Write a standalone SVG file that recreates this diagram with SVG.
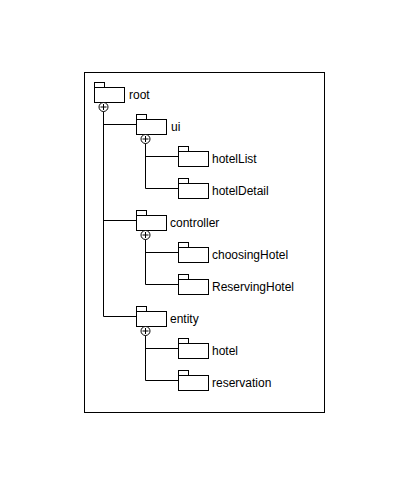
<svg xmlns="http://www.w3.org/2000/svg" width="406" height="500" viewBox="0 0 406 500">
  <defs>
    <style>
      .frame { fill: #ffffff; stroke: #000000; stroke-width: 1; }
      .box { fill: #ffffff; stroke: #000000; stroke-width: 1; }
      .label { font-family: "Liberation Sans", Arial, sans-serif; font-size: 12px; fill: #000000; }
      .wire { fill: none; stroke: #000000; stroke-width: 1; }
      .ring { fill: #ffffff; stroke: #000000; stroke-width: 1; }
      .cross { fill: none; stroke: #000000; stroke-width: 1; }
    </style>
    <!-- package folder icon: tab + body -->
    <g id="folder">
      <rect class="box" x="0.5" y="-4.5" width="10" height="5"/>
      <rect class="box" x="0.5" y="0.5" width="30" height="15"/>
    </g>
    <!-- containment (nesting) circle with plus -->
    <g id="plus">
      <circle class="ring" cx="0" cy="0" r="4.5"/>
      <path class="cross" d="M-3 0H3M0 -3V3"/>
    </g>
  </defs>

  <rect class="frame" x="84.5" y="72.5" width="240" height="340"/>

  <g id="connectors" class="wire">
    <!-- root to ui, controller, entity -->
    <path d="M103.5 111.5V316.5M103.5 124.5H136M103.5 220.5H136M103.5 316.5H136"/>
    <!-- ui to hotelList, hotelDetail -->
    <path d="M145.5 143.5V188.5M145.5 156.5H178M145.5 188.5H178"/>
    <!-- controller to choosingHotel, ReservingHotel -->
    <path d="M145.5 239.5V284.5M145.5 252.5H178M145.5 284.5H178"/>
    <!-- entity to hotel, reservation -->
    <path d="M145.5 335.5V380.5M145.5 348.5H178M145.5 380.5H178"/>
  </g>

  <g id="root" transform="translate(94 87)">
    <use href="#folder"/>
    <text class="label" x="35" y="12">root</text>
    <use href="#plus" x="9.5" y="20"/>
  </g>
  <g id="ui" transform="translate(136 119)">
    <use href="#folder"/>
    <text class="label" x="35" y="12">ui</text>
    <use href="#plus" x="9.5" y="20"/>
  </g>
  <g id="hotelList" transform="translate(178 151)">
    <use href="#folder"/>
    <text class="label" x="34" y="12">hotelList</text>
  </g>
  <g id="hotelDetail" transform="translate(178 183)">
    <use href="#folder"/>
    <text class="label" x="34" y="12">hotelDetail</text>
  </g>
  <g id="controller" transform="translate(136 215)">
    <use href="#folder"/>
    <text class="label" x="34" y="12">controller</text>
    <use href="#plus" x="9.5" y="20"/>
  </g>
  <g id="choosingHotel" transform="translate(178 247)">
    <use href="#folder"/>
    <text class="label" x="34" y="12">choosingHotel</text>
  </g>
  <g id="ReservingHotel" transform="translate(178 279)">
    <use href="#folder"/>
    <text class="label" x="34" y="12">ReservingHotel</text>
  </g>
  <g id="entity" transform="translate(136 311)">
    <use href="#folder"/>
    <text class="label" x="34" y="12">entity</text>
    <use href="#plus" x="9.5" y="20"/>
  </g>
  <g id="hotel" transform="translate(178 343)">
    <use href="#folder"/>
    <text class="label" x="34" y="12">hotel</text>
  </g>
  <g id="reservation" transform="translate(178 375)">
    <use href="#folder"/>
    <text class="label" x="34" y="12">reservation</text>
  </g>
</svg>
